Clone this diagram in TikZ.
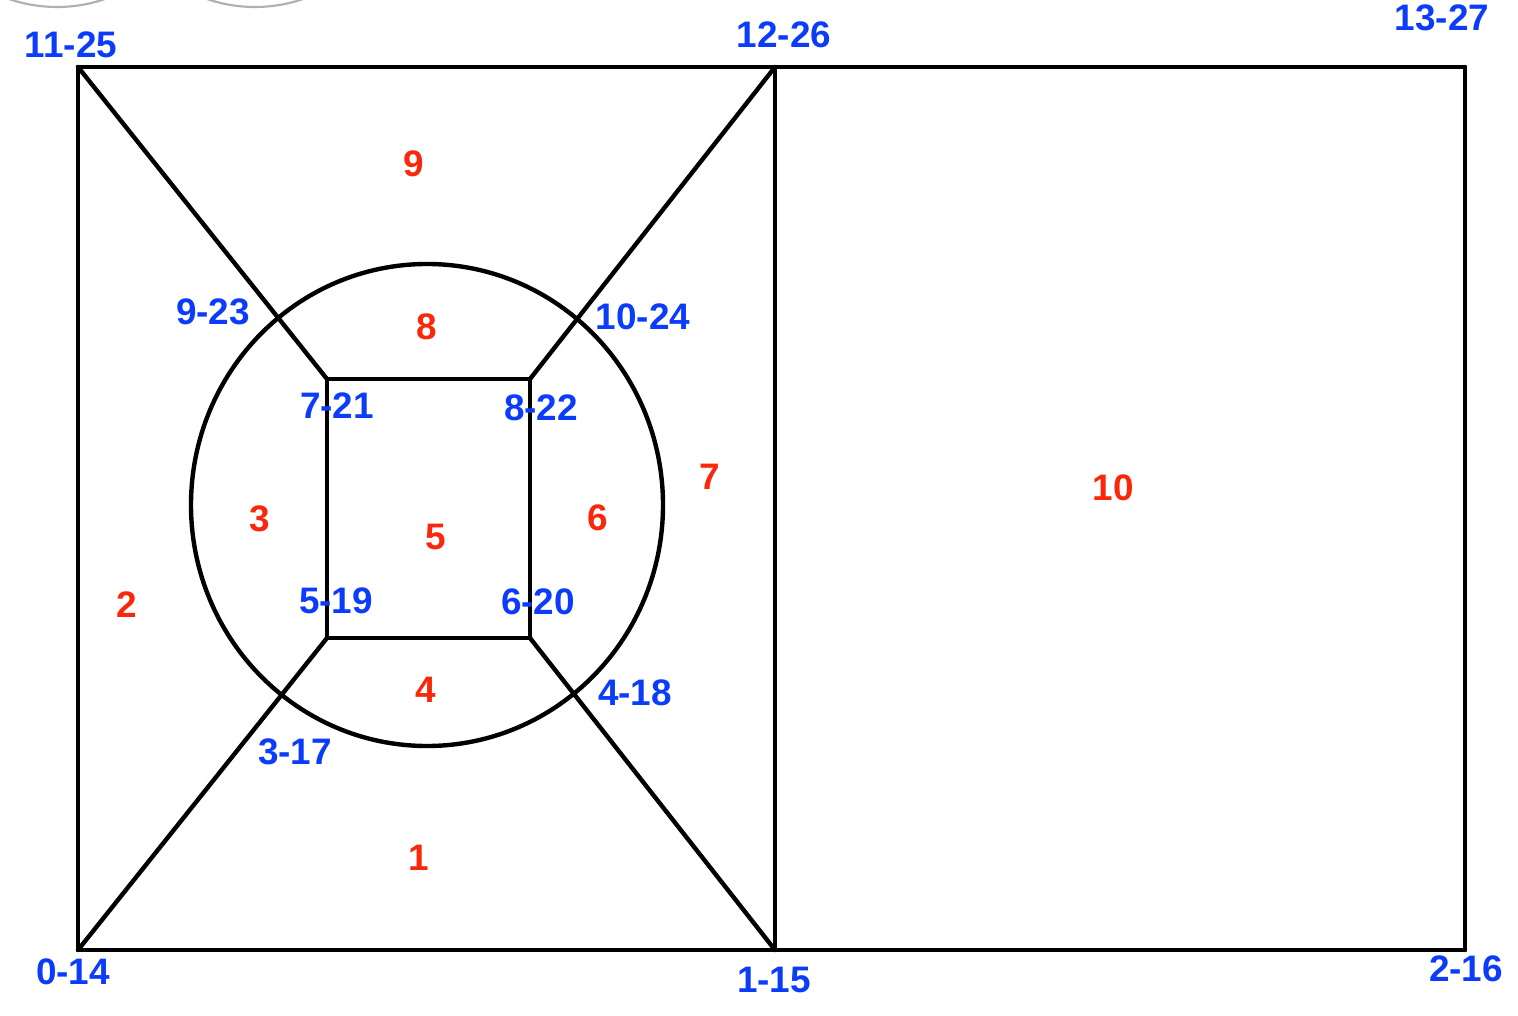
\documentclass[tikz,border=0pt]{standalone}
\usepackage{fontspec}
\setmainfont{Liberation Sans}
\usepackage{tikz}
\usetikzlibrary{positioning,calc}
\definecolor{vblue}{RGB}{10,60,250}
\definecolor{fred}{RGB}{250,40,10}
\definecolor{ghost}{RGB}{175,175,175}

\begin{document}
\begin{tikzpicture}[
    x=0.02cm, y=-0.02cm,
    font=\fontsize{21}{23}\selectfont\bfseries,
    edge/.style={draw, line width=2.5pt, line cap=round, line join=round},
    vlabel/.style={text=vblue, inner sep=0pt},
    flabel/.style={text=fred, inner sep=0pt}
]
\useasboundingbox (0,0) rectangle (1518,1016);

% cut-off circles along the top edge
\begin{scope}
  \clip (0,0) rectangle (1518,1016);
  \draw[ghost, line width=1.2pt] (57,-141) circle [radius=148];
  \draw[ghost, line width=1.2pt] (255,-141) circle [radius=148];
\end{scope}

% outer corners
\coordinate (v0) at (78,950);
\coordinate (v1) at (775,950);
\coordinate (v2) at (1465,950);
\coordinate (v11) at (78,67);
\coordinate (v12) at (775,67);
\coordinate (v13) at (1465,67);
% inner square
\coordinate (v5) at (327,638);
\coordinate (v6) at (530,638);
\coordinate (v7) at (327,379);
\coordinate (v8) at (530,379);
% circle centre
\coordinate (c) at (427,505);

\foreach \i/\j in {v0/v1, v1/v2, v2/v13, v13/v12, v12/v11, v11/v0, v12/v1,
                   v5/v6, v6/v8, v8/v7, v7/v5,
                   v11/v7, v12/v8, v0/v5, v1/v6}
  \path[edge] (\i) -- (\j);

\draw[line width=2.5pt] (c) ellipse [x radius=236, y radius=241];

% vertex labels
\node[vlabel] (l0) at (73,972) {0-14};
\node[vlabel] (l1) at (774,980) {1-15};
\node[vlabel] (l2) at (1466,969) {2-16};
\node[vlabel] (l3) at (295,752) {3-17};
\node[vlabel] (l4) at (635,693) {4-18};
\node[vlabel] (l5) at (336,601) {5-19};
\node[vlabel] (l6) at (538,602) {6-20};
\node[vlabel] (l7) at (337,406) {7-21};
\node[vlabel] (l8) at (541,408) {8-22};
\node[vlabel] (l9) at (213,312) {9-23};
\node[vlabel] (l10) at (643,317) {10-24};
\node[vlabel] (l11) at (71,45) {11-25};
\node[vlabel] (l12) at (784,35) {12-26};
\node[vlabel] (l13) at (1442,18) {13-27};

% face labels
\node[flabel] (f1) at (419,858) {1};
\node[flabel] (f2) at (127,605) {2};
\node[flabel] (f3) at (260,519) {3};
\node[flabel] (f4) at (426,690) {4};
\node[flabel] (f5) at (436,537) {5};
\node[flabel] (f6) at (598,518) {6};
\node[flabel] (f7) at (710,477) {7};
\node[flabel] (f8) at (427,327) {8};
\node[flabel] (f9) at (414,164) {9};
\node[flabel] (f10) at (1113,488) {10};

\end{tikzpicture}
\end{document}
